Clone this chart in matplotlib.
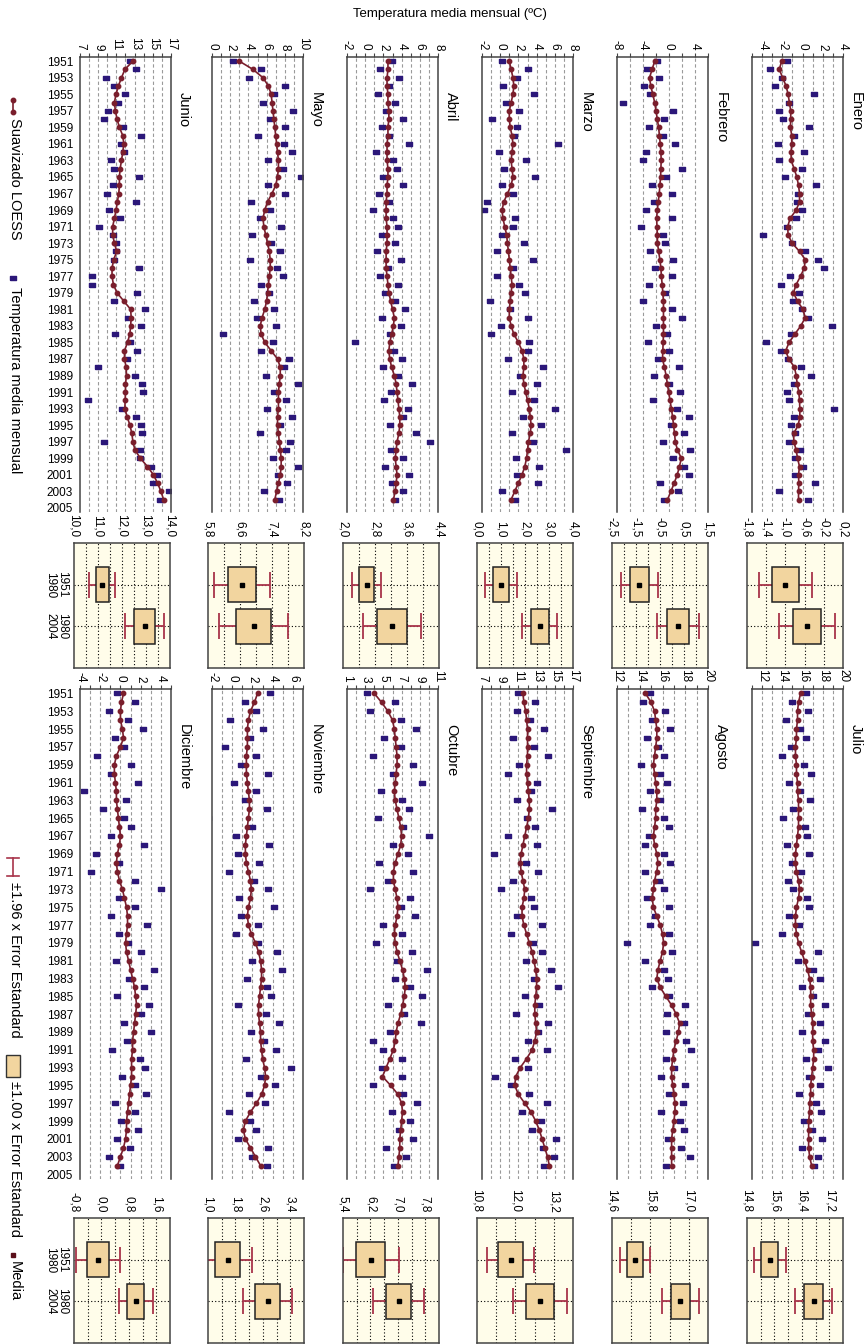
import matplotlib
matplotlib.use('Agg')
import matplotlib.pyplot as plt
from matplotlib.patches import Rectangle
from matplotlib.lines import Line2D

plt.rcParams['font.family'] = ['Liberation Sans', 'DejaVu Sans']

W, H = 867, 1344
years = list(range(1951, 2005))
year_ticks = list(range(1951, 2006, 2))

months = ['Enero', 'Febrero', 'Marzo', 'Abril', 'Mayo', 'Junio',
          'Julio', 'Agosto', 'Septiembre', 'Octubre', 'Noviembre', 'Diciembre']

# suavizado LOESS
enero_loess = [-2.07, -2.3, -1.97, -1.63, -1.43, -1.3, -1.17, -1.17, -1.2, -1.07, -1.07, -1.13, -1.13, -0.83,
               -0.57, -0.4, -0.3, -0.3, -0.63, -1.23, -1.47, -1.43, -1.03, -0.3, 0.27, 0.17, -0.2, -0.63,
               -0.9, -0.5, 0.03, 0.27, -0.17, -0.77, -1.33, -1.67, -1.37, -0.8, -0.63, -0.53, -0.37, -0.3,
               -0.27, -0.27, -0.43, -0.87, -0.87, -0.63, -0.5, -0.3, -0.4, -0.37, -0.4, -0.4]
febrero_loess = [-2.2, -2.6, -3.0, -2.8, -2.5, -2.2, -2.0, -1.8, -1.6, -1.47, -1.35, -1.25, -1.2, -1.25, -1.3,
                 -1.4, -1.5, -1.65, -1.8, -1.9, -1.85, -1.8, -1.77, -1.6, -1.4, -1.25, -1.17, -1.05, -0.95,
                 -0.85, -0.85, -0.85, -0.85, -0.85, -0.9, -0.95, -1.0, -0.7, -0.45, -0.25, -0.05, 0.15, 0.37,
                 0.55, 0.7, 0.85, 0.97, 1.3, 1.9, 1.6, 1.27, 0.8, 0.3, -0.24]
marzo_loess = [1.0, 1.2, 1.4, 1.5, 1.4, 1.2, 1.0, 1.0, 1.1, 1.3, 1.4, 1.3, 1.2, 1.3, 1.4, 1.2, 0.8, 0.4, 0.2,
               0.3, 0.5, 0.7, 0.8, 0.9, 1.0, 1.1, 1.2, 1.3, 1.2, 1.1, 1.0, 1.0, 1.2, 1.5, 2.0, 2.4, 2.6, 2.6,
               2.5, 2.6, 2.8, 3.0, 3.2, 3.3, 3.4, 3.3, 3.1, 3.0, 2.9, 2.7, 2.4, 2.0, 1.6, 1.2]
abril_loess = [2.5, 2.5, 2.4, 2.4, 2.5, 2.5, 2.6, 2.6, 2.5, 2.5, 2.4, 2.4, 2.4, 2.5, 2.5, 2.4, 2.4, 2.3, 2.3,
               2.3, 2.4, 2.4, 2.4, 2.3, 2.3, 2.3, 2.4, 2.5, 2.6, 2.8, 3.0, 3.2, 3.1, 2.9, 2.7, 2.6, 2.7, 2.9,
               3.2, 3.4, 3.5, 3.6, 3.7, 3.8, 3.8, 3.7, 3.5, 3.4, 3.3, 3.4, 3.5, 3.4, 3.3, 3.1]
mayo_loess = [3.0, 4.5, 5.6, 6.2, 6.5, 6.6, 6.7, 6.8, 6.9, 7.0, 7.1, 7.2, 7.3, 7.3, 7.2, 7.0, 6.6, 6.1, 5.8,
              5.6, 5.7, 5.9, 6.1, 6.3, 6.4, 6.4, 6.3, 6.2, 6.1, 6.0, 5.8, 5.5, 5.3, 5.4, 5.8, 6.5, 7.2, 7.5,
              7.5, 7.4, 7.3, 7.3, 7.3, 7.2, 7.2, 7.3, 7.4, 7.5, 7.6, 7.6, 7.5, 7.3, 7.1, 6.9]
junio_loess = [12.81, 11.93, 11.56, 11.22, 10.96, 10.78, 10.89, 11.07, 11.33, 11.7, 11.81, 11.7, 11.56, 11.41,
               11.33, 11.33, 11.26, 11.11, 10.96, 10.78, 10.59, 10.59, 10.78, 11.04, 10.7, 10.52, 10.52, 10.67,
               11.07, 11.81, 12.56, 12.63, 12.56, 12.48, 12.22, 11.89, 11.89, 12.07, 12.11, 12.0, 12.0, 11.96,
               11.93, 12.19, 12.48, 12.7, 12.81, 13.04, 13.63, 14.41, 15.07, 15.52, 15.89, 16.19]
julio_loess = [15.8, 15.6, 15.5, 15.5, 15.4, 15.4, 15.3, 15.3, 15.4, 15.4, 15.5, 15.5, 15.6, 15.6, 15.6, 15.6,
               15.5, 15.4, 15.3, 15.3, 15.4, 15.6, 15.7, 15.6, 15.4, 15.3, 15.3, 15.4, 15.6, 15.9, 16.2, 16.5,
               16.7, 16.8, 16.8, 16.8, 16.9, 17.0, 17.0, 17.0, 17.1, 17.1, 17.0, 16.9, 16.8, 16.8, 16.7, 16.7,
               16.6, 16.6, 16.6, 16.6, 16.7, 16.9]
agosto_loess = [14.5, 15.0, 15.3, 15.4, 15.5, 15.5, 15.4, 15.3, 15.2, 15.3, 15.4, 15.5, 15.5, 15.4, 15.4, 15.3,
                15.2, 15.3, 15.5, 15.6, 15.5, 15.3, 15.2, 15.1, 15.2, 15.5, 15.8, 16.0, 16.1, 16.0, 15.8, 15.6,
                15.5, 15.8, 16.3, 16.8, 17.2, 17.5, 17.4, 17.2, 17.0, 16.9, 16.8, 16.8, 16.9, 17.0, 17.1, 17.1,
                17.0, 16.9, 16.8, 16.8, 16.8, 16.8]
septiembre_loess = [11.5, 11.6, 11.8, 11.9, 12.0, 12.0, 12.0, 12.0, 11.9, 11.9, 12.0, 12.1, 12.2, 12.2, 12.1,
                    11.9, 11.7, 11.5, 11.3, 11.2, 11.3, 11.5, 11.7, 11.6, 11.4, 11.4, 11.6, 11.9, 12.2, 12.5,
                    12.7, 12.9, 13.0, 13.0, 12.9, 12.8, 12.8, 12.9, 13.0, 12.8, 12.5, 11.9, 11.2, 10.7, 10.6,
                    11.0, 11.7, 12.4, 12.9, 13.3, 13.6, 13.9, 14.2, 14.4]
octubre_loess = [4.0, 4.8, 5.5, 6.0, 6.2, 6.3, 6.4, 6.5, 6.5, 6.4, 6.3, 6.2, 6.3, 6.5, 6.7, 6.9, 7.0, 6.9, 6.6,
                 6.3, 6.1, 6.1, 6.3, 6.5, 6.6, 6.5, 6.3, 6.2, 6.3, 6.5, 6.8, 7.1, 7.3, 7.4, 7.3, 7.1, 6.9, 6.6,
                 6.4, 6.3, 6.1, 5.7, 5.3, 4.9, 5.8, 6.6, 7.0, 7.1, 7.0, 6.9, 6.8, 6.8, 6.7, 6.6]
noviembre_loess = [2.5, 2.2, 1.8, 1.6, 1.5, 1.5, 1.5, 1.4, 1.4, 1.4, 1.5, 1.6, 1.7, 1.7, 1.6, 1.5, 1.4, 1.3,
                   1.3, 1.4, 1.6, 1.8, 1.9, 1.8, 1.6, 1.5, 1.6, 1.9, 2.3, 2.6, 2.8, 2.9, 2.9, 2.8, 2.7, 2.6, 2.6,
                   2.7, 2.8, 2.8, 2.9, 3.0, 3.2, 3.3, 3.2, 2.9, 2.4, 1.8, 1.3, 1.1, 1.3, 1.8, 2.3, 2.8]
diciembre_loess = [0.3, 0.1, 0.0, 0.0, 0.2, 0.3, 0.0, -0.4, -0.6, -0.6, -0.5, -0.4, -0.4, -0.3, -0.2, -0.1,
                   0.0, -0.1, -0.3, -0.4, -0.3, -0.1, 0.2, 0.4, 0.6, 0.7, 0.7, 0.6, 0.5, 0.6, 0.8, 1.0, 1.2,
                   1.4, 1.5, 1.6, 1.5, 1.4, 1.3, 1.2, 1.2, 1.1, 1.1, 1.1, 1.0, 0.9, 0.8, 0.7, 0.6, 0.6, 0.5,
                   0.3, 0.0, -0.3]

# temperatura media mensual
enero_temp = [-1.57, -3.23, -2.0, -2.73, 1.17, -1.3, -2.33, -1.97, 0.67, -0.87, -2.47, 0.17, -2.33, -0.03,
              -1.73, 1.37, -0.43, -0.57, -0.03, -0.63, -1.5, -3.93, -1.0, 0.27, 1.5, 2.17, -1.23, -2.13,
              -0.33, -0.93, -0.1, 0.57, 2.87, -1.13, -3.63, -2.13, -1.4, -0.17, 0.83, -0.87, -1.57, -1.33,
              3.07, -0.87, -1.13, -0.73, -1.33, -0.27, -0.7, 0.07, -0.73, 1.27, -2.33, 0.57]
febrero_temp = [-1.9, -3.4, -1.5, -3.8, -3.0, -7.1, 0.6, -0.8, -3.1, -0.97, 0.85, -3.55, -4.0, 1.95, -0.5,
                -2.6, 0.4, -2.25, -3.5, 0.5, -4.35, -0.9, -0.57, -3.0, 0.6, -2.15, 0.43, -3.05, -0.55, -3.95,
                0.45, 1.95, -1.95, -0.25, -3.3, 0.05, -1.7, 1.5, -2.25, 0.05, 1.65, -2.45, 1.27, 3.05, 0.3,
                2.25, -0.93, 3.3, 0.6, 2.3, 3.07, -1.4, 1.4, -0.74]
marzo_temp = [0.2, 3.1, 1.8, 0.3, 3.7, 0.6, 2.1, -0.9, 1.8, 1.5, 6.4, -0.1, 2.8, 0.4, 3.8, 0.2, 1.4, -1.4,
              -1.8, 1.6, 1.4, 0.2, 2.6, -0.4, 3.6, 1.4, -0.4, 2.1, 2.7, -1.1, 1.1, 3.0, 0.1, -1.0, 3.2, 3.0,
              0.9, 4.7, 2.2, 4.0, 1.3, 3.7, 6.0, 2.5, 4.5, 1.3, 3.6, 7.2, 1.7, 4.3, 1.8, 4.2, 0.2, 1.6]
abril_temp = [2.9, 1.6, 3.7, 2.6, 1.4, 3.3, 2.3, 4.1, 1.8, 2.6, 4.8, 1.2, 3.0, 3.5, 2.0, 4.2, 1.5, 2.6, 0.9,
              3.0, 3.6, 1.8, 3.3, 1.3, 3.9, 2.5, 1.6, 3.6, 2.2, 3.3, 4.4, 1.9, 3.9, 2.7, -1.1, 3.2, 4.0, 2.0,
              3.6, 5.1, 2.8, 2.1, 4.7, 4.1, 2.7, 5.6, 7.1, 2.8, 4.1, 2.2, 4.8, 2.9, 4.2, 3.3]
mayo_temp = [2.3, 5.4, 4.1, 8.0, 6.8, 5.6, 8.9, 6.4, 8.0, 5.0, 7.9, 8.8, 6.1, 7.8, 9.8, 6.1, 8.0, 4.3, 6.4,
             5.3, 7.6, 4.4, 6.5, 7.5, 4.2, 7.1, 7.8, 5.4, 6.3, 4.6, 6.8, 4.9, 7.0, 1.2, 6.7, 5.4, 8.5, 7.9,
             5.9, 9.5, 6.8, 8.1, 6.0, 8.8, 7.5, 5.3, 8.6, 8.1, 6.7, 9.4, 7.3, 8.2, 5.7, 7.4]
junio_temp = [12.44, 13.11, 9.85, 10.78, 12.0, 11.15, 10.07, 9.67, 11.78, 13.67, 11.56, 11.85, 10.41, 10.78,
              13.44, 10.63, 9.96, 13.19, 10.19, 11.41, 9.07, 10.63, 11.0, 11.0, 10.78, 13.44, 8.3, 8.3, 13.3,
              10.78, 14.19, 12.3, 13.67, 10.89, 12.44, 13.3, 12.15, 9.0, 13.0, 13.85, 13.96, 7.89, 11.63,
              13.19, 13.67, 13.85, 9.67, 13.63, 13.6, 14.85, 15.41, 15.0, 16.78, 15.78]
julio_temp = [16.3, 15.0, 16.5, 14.4, 15.7, 16.3, 14.9, 14.0, 16.1, 16.8, 14.7, 15.7, 16.7, 15.1, 14.1, 16.2,
              16.4, 14.5, 16.6, 15.0, 15.8, 14.6, 15.1, 16.4, 16.6, 14.7, 15.6, 14.0, 11.3, 17.5, 15.5, 17.0,
              17.7, 15.9, 17.0, 18.2, 16.5, 17.7, 15.9, 18.2, 17.5, 16.3, 18.5, 16.6, 17.7, 15.6, 17.3, 17.8,
              16.1, 16.9, 17.9, 15.9, 17.5, 17.1]
agosto_temp = [14.9, 14.3, 16.2, 15.1, 16.7, 14.6, 15.6, 16.1, 14.1, 15.8, 16.4, 14.9, 15.8, 14.2, 16.1, 16.6,
               14.8, 14.5, 16.1, 16.7, 14.5, 15.7, 16.1, 14.6, 16.6, 15.3, 14.9, 16.6, 12.9, 16.8, 14.5, 16.1,
               16.5, 15.1, 16.6, 18.0, 16.4, 17.9, 16.3, 18.1, 18.5, 16.3, 17.0, 15.9, 18.0, 16.6, 17.8, 15.9,
               17.5, 17.9, 16.5, 17.6, 18.4, 16.3]
septiembre_temp = [11.0, 12.8, 10.8, 12.3, 13.8, 10.4, 12.7, 14.2, 11.1, 9.9, 13.0, 12.4, 10.8, 14.7, 11.9,
                   12.8, 9.9, 13.0, 8.3, 11.8, 13.2, 10.4, 9.1, 12.4, 12.7, 10.9, 13.6, 10.2, 12.6, 13.6, 11.8,
                   14.6, 12.7, 15.3, 11.7, 13.3, 10.7, 14.3, 13.2, 12.1, 14.1, 10.6, 12.1, 8.4, 10.2, 12.2, 14.1,
                   11.4, 13.5, 12.5, 15.1, 13.7, 14.9, 13.8]
octubre_temp = [3.2, 6.3, 3.5, 6.9, 8.6, 5.1, 6.9, 3.9, 8.3, 6.0, 9.2, 4.7, 7.0, 7.8, 4.4, 7.1, 10.0, 6.0, 7.7,
                4.5, 8.3, 5.5, 3.5, 7.9, 6.9, 8.5, 5.0, 7.0, 4.2, 8.1, 6.5, 9.8, 6.3, 7.9, 9.2, 5.5, 7.3, 9.1,
                5.7, 3.9, 5.0, 7.0, 4.8, 7.0, 3.9, 7.2, 8.7, 5.9, 7.9, 6.7, 8.2, 5.3, 7.5, 6.2]
noviembre_temp = [3.7, 1.3, 2.4, -0.2, 3.0, 1.8, -0.7, 2.4, 0.9, 3.5, 0.2, 2.4, 1.3, 3.4, -2.4, 2.0, 0.4, 3.6,
                  0.6, 2.6, -0.3, 2.2, 3.5, 0.7, 4.1, 0.9, 2.5, 0.4, 2.5, 4.4, 2.0, 4.9, 1.5, 3.4, 3.8, 0.6,
                  3.3, 4.6, 1.9, 3.1, 4.3, 1.4, 5.8, 2.8, 4.2, 1.7, 3.2, -0.3, 1.8, 2.4, 0.6, 3.5, 2.0, 3.4]
diciembre_temp = [-0.3, 1.4, -1.1, 0.7, 2.2, -0.5, 0.4, -2.3, 1.0, -0.9, 1.7, -3.6, 0.5, -1.7, 0.4, 1.0, -0.9,
                  2.3, -2.4, -0.1, -2.9, 1.4, 4.0, -0.1, 1.4, -0.9, 2.6, -0.1, 0.7, 2.0, -0.4, 3.3, 0.8, 2.3,
                  -0.3, 2.8, 2.0, 0.4, 3.0, 0.6, -0.8, 1.9, 2.4, 0.2, 1.4, 2.5, -0.5, 1.4, 0.1, 1.7, -0.3, 0.9,
                  -1.1, 0.0]

# media y error estandard por periodo (1951-1980, 1980-2004)
periods = ['1951\n1980', '1980\n2004']
mean_1 = [-1.0, -1.36, 1.01, 2.59, 6.65, 11.17, 15.46, 15.32, 11.85, 6.21, 1.57, -0.10]
se_1 = [0.28, 0.39, 0.335, 0.19, 0.36, 0.27, 0.24, 0.24, 0.38, 0.42, 0.37, 0.32]
mean_2 = [-0.55, 0.25, 2.61, 3.23, 6.94, 12.94, 16.74, 16.74, 12.77, 7.02, 2.74, 1.0]
se_2 = [0.30, 0.45, 0.37, 0.37, 0.44, 0.42, 0.27, 0.30, 0.43, 0.375, 0.36, 0.25]

loess = [enero_loess, febrero_loess, marzo_loess, abril_loess, mayo_loess, junio_loess,
         julio_loess, agosto_loess, septiembre_loess, octubre_loess, noviembre_loess, diciembre_loess]
temp = [enero_temp, febrero_temp, marzo_temp, abril_temp, mayo_temp, junio_temp,
        julio_temp, agosto_temp, septiembre_temp, octubre_temp, noviembre_temp, diciembre_temp]

# ejes: (min, max, paso etiquetas, paso rejilla, primera etiqueta)
series_axis = [(-5, 4, 2, 1, -4), (-8, 6, 4, 2, -8), (-2, 8, 2, 1, -2), (-2, 8, 2, 1, -2), (0, 10, 2, 1, 0),
               (7, 17, 2, 1, 7), (11, 20, 2, 1, 12), (12, 20, 2, 1, 12), (7, 17, 2, 1, 7), (1, 11, 2, 1, 1),
               (-2, 7, 2, 1, -2), (-4, 5, 2, 1, -4)]
box_axis = [(-1.8, 0.2, 0.4, 0.4), (-2.5, 1.5, 1.0, 0.5), (0.0, 4.0, 1.0, 0.5), (2.0, 4.4, 0.8, 0.4),
            (5.8, 8.2, 0.8, 0.4), (10.0, 14.0, 1.0, 0.5), (14.8, 17.6, 0.8, 0.4), (14.6, 17.6, 1.2, 0.6),
            (10.8, 13.8, 1.2, 0.6), (5.4, 8.2, 0.8, 0.4), (1.0, 3.8, 0.8, 0.4), (-0.8, 2.0, 0.8, 0.4)]

c_loess = '#7a1e2c'
c_temp = '#2b1779'
c_err = '#a8344a'
c_box = '#f2d59f'
frame = '#444444'
rect_marker = [(-1, -0.6), (1, -0.6), (1, 0.6), (-1, 0.6), (-1, -0.6)]

series_left = [752, 617, 482, 347, 212, 80]
box_left = [747, 612, 477, 343, 208, 74]
series_w, box_w = 91, 96
groups = [(57, 455, 543, 125), (689, 490, 1218, 125)]  # (top serie, alto, top caja, alto)

fig = plt.figure(figsize=(W / 100, H / 100), dpi=100)


def add_px_axes(x0, y0, w, h):
    return fig.add_axes([x0 / W, 1 - (y0 + h) / H, w / W, h / H])


def frange(a, b, s):
    out = []
    v = a
    while v <= b + 1e-9:
        out.append(round(v, 6))
        v += s
    return out


def fmt(v):
    return ('%.1f' % v).replace('.', ',')


for i, name in enumerate(months):
    g = i // 6
    col = i % 6
    top, hgt, btop, bh = groups[g]

    # serie temporal
    ax = add_px_axes(series_left[col], top, series_w, hgt)
    lo, hi, tstep, gstep, t0 = series_axis[i]
    ax.set_xlim(lo, hi)
    ax.set_ylim(2005.5, 1950.5)
    for gx in frange(lo + gstep, hi - gstep * 0.5, gstep):
        ax.axvline(gx, color='#9a9a9a', lw=0.8, ls=(0, (3, 2.2)), zorder=0)
    ax.plot(temp[i], years, ls='none', marker=rect_marker, ms=4.2, color=c_temp, zorder=2)
    ax.plot(loess[i], years, '-o', color=c_loess, lw=1.2, ms=3.2, zorder=3)
    ax.xaxis.tick_top()
    ax.set_xticks(frange(t0, hi, tstep))
    ax.set_xticklabels(['%d' % v for v in frange(t0, hi, tstep)])
    ax.set_xticks(frange(lo, hi, gstep), minor=True)
    ax.tick_params(axis='x', which='both', labelrotation=-90, labelsize=8.5, length=3, width=0.8,
                   color=frame, pad=2)
    ax.spines['bottom'].set_visible(False)
    for s in ['top', 'left', 'right']:
        ax.spines[s].set_color(frame)
        ax.spines[s].set_linewidth(1.1)
    ax.set_yticks(year_ticks)
    if col == 5:
        ax.set_yticklabels([str(y) for y in year_ticks])
        ax.tick_params(axis='y', length=0, labelsize=8.5, pad=5)
    else:
        ax.set_yticklabels([])
        ax.tick_params(axis='y', length=0)
    fig.text((series_left[col] + series_w + 13) / W, 1 - (top + 35) / H, name, rotation=-90,
             ha='center', va='top', fontsize=10.5)

    # medias con error estandard
    bx = add_px_axes(box_left[col], btop, box_w, bh)
    blo, bhi, bstep, bgrid = box_axis[i]
    bx.set_facecolor('#fffdea')
    bx.set_xlim(blo, bhi)
    bx.set_ylim(3, 0)
    for gx in frange(blo + bgrid, bhi - bgrid * 0.5, bgrid):
        bx.axvline(gx, color='black', lw=0.8, ls=(0, (1, 2)), zorder=0)
    for gy in [1, 2]:
        bx.axhline(gy, color='black', lw=0.8, ls=(0, (1, 2)), zorder=0)
    means = [mean_1[i], mean_2[i]]
    ses = [se_1[i], se_2[i]]
    for k in range(2):
        yk = k + 1
        bx.errorbar(means[k], yk, xerr=1.96 * ses[k], fmt='none', ecolor=c_err, elinewidth=1.3,
                    capsize=9.5, capthick=1.3, zorder=2)
        bx.add_patch(Rectangle((means[k] - ses[k], yk - 0.42), 2 * ses[k], 0.84, facecolor=c_box,
                               edgecolor='#222222', lw=1.1, zorder=3))
        bx.plot(means[k], yk, 's', color='black', ms=2.6, zorder=4)
    bx.xaxis.tick_top()
    bt = frange(blo, bhi, bstep)
    bx.set_xticks(bt)
    bx.set_xticklabels([fmt(v) for v in bt])
    bx.tick_params(axis='x', labelrotation=-90, labelsize=8.5, length=0, pad=4)
    bx.set_yticks([])
    for s in bx.spines.values():
        s.set_color(frame)
        s.set_linewidth(1.1)
    if col == 5:
        for k in range(2):
            fig.text((box_left[col] - 6) / W, 1 - (btop + bh * (k + 1) / 3) / H, periods[k],
                     rotation=-90, ha='right', va='center', fontsize=8.5, linespacing=1.0)

fig.text(450 / W, 1 - 14 / H, 'Temperatura media mensual (ºC)', ha='center', va='center', fontsize=9.5)


# leyenda
def fx(x):
    return x / W


def fy(y):
    return 1 - y / H


fig.add_artist(Line2D([fx(13), fx(13)], [fy(100), fy(112)], color=c_loess, lw=1.2, marker='o', ms=3.2))
fig.text(fx(15), fy(118), 'Suavizado LOESS', rotation=-90, ha='center', va='top', fontsize=10.5)
fig.add_artist(Line2D([fx(13)], [fy(278)], color=c_temp, ls='none', marker=rect_marker, ms=4.2))
fig.text(fx(15), fy(287), 'Temperatura media mensual', rotation=-90, ha='center', va='top', fontsize=10.5)

fig.add_artist(Line2D([fx(13), fx(13)], [fy(858), fy(876)], color=c_err, lw=1.2))
fig.add_artist(Line2D([fx(7), fx(19)], [fy(858), fy(858)], color=c_err, lw=1.2))
fig.add_artist(Line2D([fx(7), fx(19)], [fy(876), fy(876)], color=c_err, lw=1.2))
fig.text(fx(15), fy(882), '±1.96 x Error Estandard', rotation=-90, ha='center', va='top', fontsize=10.5)
fig.add_artist(Rectangle((fx(6), fy(1077)), fx(14), 22 / H, transform=fig.transFigure,
                         facecolor=c_box, edgecolor='#333333', lw=1.0))
fig.text(fx(15), fy(1081), '±1.00 x Error Estandard', rotation=-90, ha='center', va='top', fontsize=10.5)
fig.add_artist(Line2D([fx(13)], [fy(1255)], color='#5a0f1a', ls='none', marker='s', ms=3.5))
fig.text(fx(15), fy(1261), 'Media', rotation=-90, ha='center', va='top', fontsize=10.5)

fig.savefig('out.png', dpi=100)
